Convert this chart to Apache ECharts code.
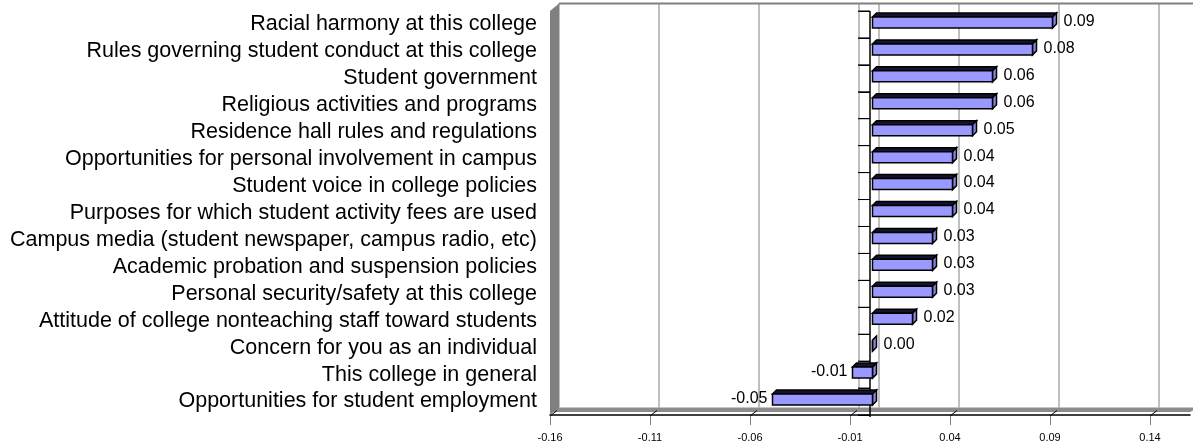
<!DOCTYPE html>
<html>
<head>
<meta charset="utf-8">
<title>Satisfaction change by item</title>
<script src="https://cdn.jsdelivr.net/npm/echarts@6/dist/echarts.min.js"></script>
<style>
  html, body { margin: 0; padding: 0; background: #ffffff; }
  #chart { width: 1193px; height: 447px; }
</style>
</head>
<body>
<div id="chart"></div>
<script>
// ---- data ----
const categories = [
  'Racial harmony at this college',
  'Rules governing student conduct at this college',
  'Student government',
  'Religious activities and programs',
  'Residence hall rules and regulations',
  'Opportunities for personal involvement in campus',
  'Student voice in college policies',
  'Purposes for which student activity fees are used',
  'Campus media (student newspaper, campus radio, etc)',
  'Academic probation and suspension policies',
  'Personal security/safety at this college',
  'Attitude of college nonteaching staff toward students',
  'Concern for you as an individual',
  'This college in general',
  'Opportunities for student employment'
];
const values = [0.09, 0.08, 0.06, 0.06, 0.05, 0.04, 0.04, 0.04, 0.03, 0.03, 0.03, 0.02, 0.00, -0.01, -0.05];
const axisMin = -0.16;
const axisMax = 0.16;
const axisStep = 0.05;
const tickValues = [-0.16, -0.11, -0.06, -0.01, 0.04, 0.09, 0.14];

// ---- look ----
const FONT = "'Liberation Sans', Arial, Helvetica, sans-serif";
const WALL_DEPTH = [9, -7.5];   // offset of the back wall from the front plane
const BAR_DEPTH = [4, -4];      // thickness of each bar box
const BAR_FRONT = [2.5, -2];    // bar front face sits a little inside the box
const BAR_H = 11;
const GRAY = '#808080';

const chart = echarts.init(document.getElementById('chart'), null, { renderer: 'canvas' });

// walls, floor, back gridlines and the zero axis
function renderFrame(params, api) {
  const cs = params.coordSys;
  const x = cs.x, y = cs.y, w = cs.width, h = cs.height;
  const [dx, dy] = WALL_DEPTH;
  const kids = [];
  const line = (x1, y1, x2, y2, stroke, lw) => kids.push({
    type: 'line', shape: { x1, y1, x2, y2 }, style: { stroke, lineWidth: lw }
  });

  // floor slab
  kids.push({
    type: 'polygon',
    shape: { points: [[x, y + h - 3], [x + w, y + h - 3], [x + w + dx, y + h + dy], [x + dx, y + h + dy]] },
    style: { fill: '#8c8c8c' }
  });
  // back wall top edge
  line(x + dx, y + dy, x + w + dx + 20, y + dy, GRAY, 2);
  // back wall gridlines at each tick and at zero
  tickValues.concat([0]).forEach(v => {
    const px = api.coord([v, 0])[0] + dx;
    line(px, y + dy, px, y + h + dy, GRAY, 1);
  });
  // left side wall
  kids.push({
    type: 'polygon',
    shape: { points: [[x, y], [x + dx, y + dy], [x + dx, y + h + dy], [x, y + h]] },
    style: { fill: GRAY }
  });
  // depth ticks on the floor
  tickValues.forEach(v => {
    const px = api.coord([v, 0])[0];
    line(px, y + h + 1, px + 7, y + h - 4.5, '#000', 1);
  });
  // zero axis with its category ticks
  const x0 = api.coord([0, 0])[0];
  const band = h / categories.length;
  for (let i = 0; i <= categories.length; i++) {
    const ty = y + i * band;
    line(x0 - 12, ty, x0, ty, '#000', 1);
  }
  line(x0, y, x0, y + h + 2, '#000', 1.5);
  return { type: 'group', children: kids };
}

// one 3D box per category, with its value label
function renderBar(params, api) {
  const v = api.value(0);
  const i = api.value(1);
  const p0 = api.coord([0, i]);
  const p1 = api.coord([v, i]);
  const cy = p0[1] + BAR_FRONT[1];
  const xa = Math.min(p0[0], p1[0]) + BAR_FRONT[0];
  const xb = Math.max(p0[0], p1[0]) + BAR_FRONT[0];
  const top = cy - BAR_H / 2, bot = cy + BAR_H / 2;
  const [bx, by] = BAR_DEPTH;
  const stroke = { stroke: '#000', lineWidth: 1.5, lineJoin: 'miter' };
  const label = v.toFixed(2);
  const pos = v >= 0;
  return {
    type: 'group',
    children: [
      { type: 'polygon', shape: { points: [[xa, top], [xb, top], [xb + bx, top + by], [xa + bx, top + by]] },
        style: Object.assign({ fill: '#141430' }, stroke) },
      { type: 'polygon', shape: { points: [[xb, top], [xb + bx, top + by], [xb + bx, bot + by], [xb, bot]] },
        style: Object.assign({ fill: '#8585e6' }, stroke) },
      { type: 'rect', shape: { x: xa, y: top, width: xb - xa, height: BAR_H },
        style: Object.assign({ fill: '#9999ff' }, stroke) },
      { type: 'text',
        style: {
          text: label,
          x: pos ? xb + bx + 7 : xa - 5,
          y: cy - 1,
          align: pos ? 'left' : 'right',
          verticalAlign: 'middle',
          fill: '#000',
          font: '16px ' + FONT
        } }
    ]
  };
}

const option = {
  animation: false,
  backgroundColor: '#ffffff',
  textStyle: { fontFamily: FONT },
  grid: { left: 550, top: 11, width: 640, height: 404, containLabel: false },
  xAxis: {
    type: 'value',
    min: axisMin,
    max: axisMax,
    interval: axisStep,
    axisLine: { show: true, onZero: false, lineStyle: { color: '#000', width: 1.5 } },
    axisTick: { show: true, length: 10, customValues: tickValues, lineStyle: { color: GRAY, width: 1 } },
    axisLabel: {
      show: true,
      customValues: tickValues,
      fontSize: 11,
      color: '#000',
      margin: 17,
      fontFamily: FONT,
      formatter: v => v.toFixed(2)
    },
    splitLine: { show: false }
  },
  yAxis: {
    type: 'category',
    data: categories,
    inverse: true,
    axisLine: { show: false },
    axisTick: { show: true, length: 12, interval: 0, lineStyle: { color: '#000', width: 1 } },
    axisLabel: { interval: 0, fontSize: 21.5, color: '#000', margin: 13, fontFamily: FONT },
    splitLine: { show: false }
  },
  series: [
    {
      type: 'custom',
      name: 'frame',
      coordinateSystem: 'cartesian2d',
      data: [[0, 0]],
      renderItem: renderFrame,
      clip: false,
      silent: true,
      z: 1
    },
    {
      type: 'custom',
      name: 'change',
      coordinateSystem: 'cartesian2d',
      data: values.map((v, i) => [v, i]),
      encode: { x: 0, y: 1 },
      renderItem: renderBar,
      clip: false,
      z: 3
    }
  ]
};

chart.setOption(option);
</script>
</body>
</html>
